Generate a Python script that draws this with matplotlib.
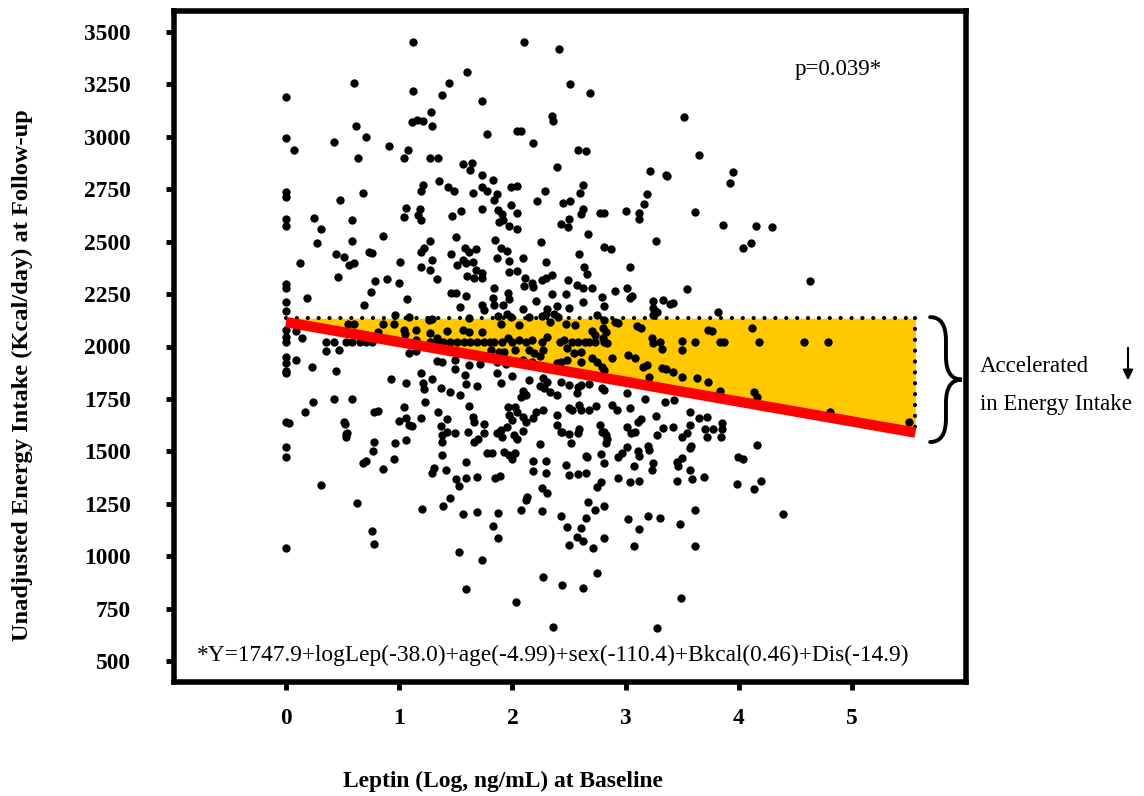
import numpy as np
import matplotlib.pyplot as plt
from matplotlib.path import Path
import matplotlib.patches as mpatches

plt.rcParams['font.family'] = ['Liberation Serif', 'DejaVu Serif']

# leptin (log, ng/mL) vs energy intake (kcal/day)
pts_upper_left = [
    (1.12, 3452), (0.60, 3257), (1.60, 3309), (1.44, 3257), (0.00, 3190), (1.12, 3219), (1.38, 3200),
    (1.73, 3167), (1.28, 3119), (1.11, 3071), (1.16, 3081), (1.21, 3076), (1.29, 3052), (0.62, 3052),
    (0.00, 2995), (0.71, 3000), (0.42, 2972), (0.07, 2934), (0.91, 2957), (1.08, 2938), (1.04, 2896),
    (0.64, 2900), (1.27, 2896), (1.34, 2896), (1.56, 2867), (1.64, 2872), (1.63, 2843), (1.78, 3010),
    (1.73, 2815), (0.00, 2734), (0.00, 2710), (0.68, 2729), (0.48, 2700), (1.21, 2767), (1.19, 2739),
    (1.35, 2786), (1.43, 2758), (1.48, 2739), (1.65, 2729), (1.73, 2758), (1.78, 2739), (0.25, 2610),
    (0.00, 2606), (0.00, 2572), (0.58, 2601), (1.06, 2658), (1.04, 2615), (1.18, 2653), (1.17, 2625),
    (1.19, 2601), (1.47, 2620), (1.55, 2644), (1.73, 2653), (0.31, 2558),
]
pts_upper_mid = [
    (2.10, 3452), (2.41, 3418), (2.51, 3252), (2.69, 3209), (2.35, 3100), (2.36, 3076), (3.52, 3095),
    (2.04, 3028), (2.08, 3028), (2.18, 2967), (2.58, 2938), (2.65, 2929), (3.65, 2910), (2.39, 2857),
    (3.22, 2838), (3.36, 2819), (3.37, 2810), (1.83, 2791), (1.99, 2758), (2.04, 2763), (1.86, 2724),
    (1.84, 2700), (2.29, 2739), (2.22, 2691), (2.62, 2767), (2.60, 2729), (2.45, 2682), (2.51, 2691),
    (3.19, 2724), (3.16, 2677), (1.87, 2648), (1.91, 2629), (1.99, 2672), (2.04, 2634), (2.62, 2653),
    (2.61, 2629), (2.77, 2634), (2.81, 2634), (3.00, 2644), (3.12, 2634), (3.12, 2606), (3.61, 2639),
    (1.88, 2591), (1.92, 2601), (1.97, 2572), (2.04, 2558), (2.50, 2606), (2.43, 2582), (2.49, 2568),
    (3.95, 2829), (3.92, 2777), (3.86, 2577), (4.15, 2572), (4.29, 2568),
]
pts_mid_left = [
    (0.27, 2492), (0.58, 2501), (0.86, 2525), (1.27, 2501), (1.50, 2520), (0.12, 2396), (0.44, 2439),
    (0.51, 2425), (0.56, 2387), (0.60, 2396), (0.73, 2449), (0.76, 2444), (1.01, 2401), (1.19, 2449),
    (1.22, 2468), (1.29, 2411), (1.19, 2377), (1.27, 2363), (1.46, 2439), (1.58, 2468), (1.62, 2449),
    (1.68, 2463), (1.56, 2411), (1.59, 2396), (1.65, 2401), (1.51, 2387), (1.68, 2363), (1.73, 2349),
    (1.60, 2334), (1.66, 2325), (1.73, 2325), (0.46, 2330), (0.79, 2311), (0.89, 2320), (1.00, 2301),
    (1.33, 2320), (0.00, 2296), (0.00, 2277), (0.75, 2258), (0.19, 2230), (1.07, 2225), (1.46, 2254),
    (1.50, 2254), (1.59, 2240), (0.69, 2197), (0.00, 2211), (0.00, 2168), (1.54, 2187), (1.73, 2197),
    (1.75, 2173), (0.96, 2149), (1.09, 2140), (1.26, 2125), (1.29, 2130), (1.62, 2135), (0.55, 2106),
    (0.60, 2106), (0.86, 2106), (0.95, 2106), (1.04, 2078), (1.05, 2059), (1.15, 2078), (1.27, 2064),
    (1.33, 2040), (1.42, 2073), (1.56, 2078), (1.62, 2068), (1.73, 2068), (0.81, 2068), (0.00, 2078),
    (0.00, 2045), (0.00, 2021), (0.09, 2073), (0.14, 2040), (0.35, 2021), (0.42, 2021), (0.53, 2021),
    (0.58, 2021), (0.65, 2021), (0.71, 2021), (0.76, 2021), (1.27, 2021), (1.33, 2021), (1.39, 2021),
    (1.45, 2021), (1.51, 2021), (1.57, 2021), (1.63, 2021), (1.69, 2021), (1.75, 2021), (1.15, 2030),
    (0.35, 1978), (0.47, 1983), (1.09, 1969), (1.15, 1978), (0.00, 1950), (0.00, 1921), (0.00, 1883),
    (0.00, 1874), (0.09, 1935), (0.23, 1902), (0.44, 1883), (1.33, 1931), (1.38, 1926), (1.49, 1935),
    (1.62, 1912), (1.71, 1916), (1.49, 1893), (1.58, 1864), (1.19, 1874), (0.93, 1845), (1.06, 1826),
    (1.21, 1826), (1.22, 1797), (1.29, 1845), (1.37, 1802), (1.45, 1783), (1.59, 1821), (1.69, 1812),
    (1.54, 1769), (1.23, 1736), (0.42, 1750), (0.58, 1750), (0.24, 1736), (0.17, 1688), (0.78, 1688),
    (0.81, 1693), (1.04, 1712), (1.34, 1688), (1.42, 1655), (1.62, 1717), (1.65, 1664), (1.66, 1640),
    (1.75, 1631), (0.00, 1640), (0.03, 1636), (0.51, 1640), (0.52, 1631), (1.00, 1645), (1.06, 1660),
    (1.09, 1626), (1.11, 1622), (1.19, 1660), (1.37, 1622), (1.42, 1593), (0.54, 1588),
]
pts_mid_center = [
    (2.67, 2534), (3.27, 2501), (2.25, 2496), (1.85, 2506), (1.90, 2468), (1.95, 2453), (2.81, 2473),
    (2.87, 2463), (1.86, 2420), (1.97, 2406), (2.09, 2420), (2.30, 2401), (2.59, 2439), (2.63, 2377),
    (3.04, 2377), (1.97, 2354), (2.04, 2358), (2.66, 2344), (2.11, 2325), (2.17, 2301), (2.18, 2282),
    (2.26, 2316), (2.30, 2325), (2.35, 2339), (2.49, 2316), (1.84, 2277), (2.10, 2287), (2.57, 2292),
    (2.62, 2277), (2.70, 2277), (2.91, 2263), (3.01, 2277), (3.06, 2240), (3.04, 2230), (3.54, 2273),
    (1.96, 2254), (1.97, 2225), (2.35, 2249), (2.47, 2249), (2.79, 2235), (1.83, 2230), (1.84, 2197),
    (1.92, 2197), (2.09, 2178), (2.21, 2216), (2.31, 2178), (2.39, 2192), (2.50, 2182), (2.62, 2211),
    (2.81, 2192), (3.24, 2216), (3.33, 2221), (3.39, 2201), (3.42, 2206), (3.24, 2182), (3.27, 2163),
    (1.95, 2154), (1.99, 2140), (1.87, 2144), (2.15, 2140), (2.26, 2144), (2.30, 2154), (2.37, 2154),
    (2.40, 2140), (2.75, 2149), (2.81, 2125), (2.91, 2116), (2.93, 2111), (3.24, 2149), (3.28, 2163),
    (1.90, 2106), (2.06, 2102), (2.33, 2116), (2.47, 2106), (2.55, 2102), (2.70, 2073), (2.73, 2054),
    (2.80, 2087), (2.83, 2068), (3.10, 2097), (3.14, 2087), (3.73, 2078), (1.80, 2021), (1.84, 2021),
    (1.91, 2021), (2.00, 2021), (2.06, 2030), (2.12, 2021), (2.17, 2030), (1.96, 2040), (2.26, 2021),
    (2.31, 2045), (2.42, 2021), (2.46, 2030), (2.53, 2021), (2.58, 2021), (2.64, 2021), (2.68, 2021),
    (2.73, 2021), (2.80, 2040), (2.81, 2021), (2.84, 2016), (3.23, 2040), (3.24, 2016), (3.30, 2021),
    (3.32, 1988), (3.50, 2026), (3.61, 2021), (1.81, 1983), (1.88, 1974), (1.93, 1974), (2.02, 1983),
    (2.15, 1983), (2.19, 1969), (2.27, 1983), (2.48, 1993), (2.54, 1969), (2.61, 1974), (2.70, 1945),
    (2.75, 1926), (2.88, 1945), (3.02, 1959), (3.08, 1945), (3.50, 1983), (2.09, 1935), (2.17, 1926),
    (2.24, 1955), (1.86, 1926), (1.94, 1916), (2.39, 1921), (2.43, 1926), (2.48, 1935), (2.61, 1926),
    (2.79, 1902), (2.81, 1888), (3.15, 1902), (3.19, 1912), (3.32, 1897), (3.36, 1893), (3.42, 1878),
    (3.21, 1855), (3.50, 1855), (3.63, 1850), (1.86, 1874), (1.90, 1826), (2.00, 1859), (2.15, 1840),
    (2.27, 1850), (2.31, 1831), (2.43, 1831), (2.50, 1817), (2.58, 1807), (2.61, 1817), (2.68, 1821),
    (2.79, 1802), (2.81, 1793), (2.09, 1788), (2.12, 1769), (2.08, 1760), (2.24, 1812), (2.28, 1802),
    (2.33, 1783), (2.39, 1769), (2.57, 1779), (3.01, 1779), (3.17, 1750), (3.35, 1736), (3.43, 1745),
    (1.96, 1712), (2.02, 1712), (2.04, 1688), (2.09, 1664), (2.12, 1640), (1.97, 1674), (2.00, 1650),
    (2.18, 1660), (2.21, 1688), (2.27, 1698), (2.39, 1674), (2.50, 1707), (2.53, 1698), (2.59, 1722),
    (2.61, 1698), (2.68, 1698), (2.74, 1717), (2.88, 1722), (2.92, 1698), (3.04, 1707), (3.14, 1655),
    (3.27, 1669), (3.57, 1688), (1.95, 1617), (1.90, 1603), (1.86, 1588), (2.09, 1598), (2.39, 1626),
    (2.43, 1593), (2.59, 1607), (2.77, 1626), (2.81, 1593), (3.01, 1617), (3.11, 1640), (3.33, 1612),
    (3.42, 1617), (3.57, 1626), (3.65, 1660),
]
pts_mid_right = [
    (4.11, 2492), (4.04, 2468), (4.63, 2311), (3.82, 2163), (3.76, 2073), (4.12, 2087), (3.83, 2021),
    (3.87, 2021), (4.18, 2021), (4.58, 2021), (4.79, 2021), (3.73, 1831), (3.83, 1788), (4.13, 1783),
    (4.16, 1760), (4.04, 1736), (4.81, 1688), (5.50, 1640), (3.72, 1664), (3.85, 1636), (3.70, 1607),
    (3.77, 1607), (3.85, 1607),
]
pts_lower = [
    (0.53, 1583), (0.53, 1569), (0.00, 1522), (0.00, 1474), (0.78, 1546), (0.77, 1503), (0.96, 1541),
    (1.06, 1555), (0.68, 1446), (0.71, 1455), (0.86, 1417), (0.95, 1465), (1.38, 1579), (1.49, 1588),
    (1.61, 1593), (1.75, 1588), (1.38, 1546), (1.66, 1546), (1.70, 1560), (1.38, 1484), (1.59, 1450),
    (1.78, 1493), (1.31, 1422), (1.29, 1398), (1.41, 1412), (1.50, 1370), (1.59, 1374), (1.69, 1379),
    (1.53, 1336), (0.31, 1341), (0.63, 1256), (1.45, 1279), (1.39, 1242), (1.20, 1227), (1.56, 1203),
    (1.69, 1213), (0.76, 1123), (0.78, 1061), (0.00, 1042), (1.53, 1023), (1.73, 985), (1.59, 847),
    (1.91, 1569), (2.01, 1579), (2.04, 1560), (1.82, 1493), (1.93, 1498), (1.97, 1484), (2.02, 1493),
    (2.00, 1465), (2.24, 1536), (2.44, 1593), (2.50, 1583), (2.58, 1588), (2.52, 1541), (2.79, 1593),
    (2.83, 1579), (2.84, 1560), (2.83, 1541), (3.05, 1588), (3.08, 1593), (3.28, 1579), (3.50, 1569),
    (3.54, 1588), (3.72, 1569), (2.18, 1455), (2.30, 1455), (2.18, 1408), (2.30, 1398), (2.47, 1436),
    (2.65, 1479), (2.66, 1474), (2.78, 1489), (2.81, 1446), (2.50, 1389), (2.58, 1394), (2.65, 1398),
    (2.93, 1474), (2.97, 1493), (3.01, 1522), (3.11, 1503), (3.12, 1479), (3.20, 1527), (3.21, 1508),
    (3.24, 1446), (3.23, 1412), (3.07, 1432), (3.45, 1450), (3.46, 1432), (3.50, 1470), (3.57, 1517),
    (3.58, 1527), (3.57, 1412), (1.85, 1374), (1.89, 1384), (2.93, 1374), (3.04, 1355), (3.12, 1360),
    (3.45, 1360), (3.59, 1370), (3.69, 1379), (2.26, 1327), (2.31, 1303), (2.75, 1332), (2.78, 1355),
    (2.12, 1270), (2.13, 1284), (1.87, 1208), (2.08, 1222), (2.26, 1218), (2.67, 1261), (2.73, 1222),
    (2.81, 1242), (2.43, 1194), (2.65, 1184), (3.02, 1180), (3.20, 1194), (3.30, 1184), (3.61, 1222),
    (1.83, 1146), (2.48, 1141), (2.61, 1137), (3.12, 1132), (3.48, 1156), (1.87, 1089), (2.57, 1094),
    (2.62, 1075), (2.50, 1056), (2.71, 1042), (2.81, 1089), (3.07, 1051), (3.61, 1051), (2.27, 904),
    (2.44, 866), (2.62, 852), (2.75, 923), (2.03, 785), (3.49, 804), (2.36, 666), (3.28, 657),
    (3.84, 1569), (4.16, 1531), (3.99, 1474), (4.04, 1465), (3.98, 1346), (4.13, 1322), (4.20, 1360),
    (4.39, 1203),
]

fit_x = [0, 5.56]          # regression line ends
fit_y = [2116, 1590]
ref_level = 2135           # dotted reference (intake at lowest leptin)
x_ticks = [0, 1, 2, 3, 4, 5]
y_ticks = list(range(500, 3501, 250))

pts = np.array(pts_upper_left + pts_upper_mid + pts_mid_left + pts_mid_center + pts_mid_right + pts_lower)
leptin = pts[:, 0]
kcal = pts[:, 1]

fig = plt.figure(figsize=(11.44, 7.96), dpi=100)
ax = fig.add_axes([174 / 1144, 114 / 796, 792 / 1144, 671 / 796])

# yellow band between reference level and fitted line
ax.fill_between(fit_x, fit_y, [ref_level, ref_level], color='#FFC800', lw=0, zorder=1)
ax.plot([fit_x[0], fit_x[1]], [ref_level, ref_level], color='black', lw=3,
        linestyle=(0, (0.01, 2.6)), dash_capstyle='round', zorder=2)
ax.plot([fit_x[1], fit_x[1]], [ref_level, fit_y[1]], color='black', lw=3,
        linestyle=(0, (0.01, 2.6)), dash_capstyle='round', zorder=2)

ax.scatter(leptin, kcal, s=36, color='black', lw=0, zorder=3)
ax.plot(fit_x, fit_y, color='#FF0000', lw=7.5, solid_capstyle='butt', zorder=4)

# curly brace
x0, xm, x1 = 5.69, 5.83, 5.97
yt, yb = 2140, 1545
ymid = (yt + yb) / 2
d = 110
verts = [(x0, yt), (xm, yt), (xm, yt - d),
         (xm, ymid + d),
         (xm, ymid), (x1, ymid),
         (xm, ymid), (xm, ymid - d),
         (xm, yb + d),
         (xm, yb), (x0, yb)]
codes = [Path.MOVETO, Path.CURVE3, Path.CURVE3,
         Path.LINETO,
         Path.CURVE3, Path.CURVE3,
         Path.CURVE3, Path.CURVE3,
         Path.LINETO,
         Path.CURVE3, Path.CURVE3]
ax.add_patch(mpatches.PathPatch(Path(verts, codes), fill=False, lw=2.8,
                                capstyle='round', zorder=5))

ax.set_xlim(-0.989, 6.007)
ax.set_ylim(402, 3598)
ax.set_xticks(x_ticks)
ax.set_yticks(y_ticks)
for s in ax.spines.values():
    s.set_linewidth(4)
ax.tick_params(direction='out', length=6, width=3.5, labelsize=16.8)
ax.tick_params(axis='y', pad=25)
ax.tick_params(axis='x', pad=13)
for lbl in ax.get_xticklabels() + ax.get_yticklabels():
    lbl.set_fontweight('bold')

ax.text(4.49, 3321, 'p=0.039*', fontsize=16.5, va='center', ha='left')
ax.text(-0.786, 531, '*Y=1747.9+logLep(-38.0)+age(-4.99)+sex(-110.4)+Bkcal(0.46)+Dis(-14.9)',
        fontsize=16.8, va='center', ha='left')

fig.text(22 / 1144, 1 - 375 / 796, 'Unadjusted Energy Intake (Kcal/day) at Follow-up',
         rotation=90, fontsize=17.6, fontweight='bold', ha='center', va='center')
fig.text(503 / 1144, 1 - 781 / 796, 'Leptin (Log, ng/mL) at Baseline',
         fontsize=16.9, fontweight='bold', ha='center', va='center')

fig.text(980 / 1144, 1 - 366 / 796, 'Accelerated', fontsize=16.5, ha='left', va='center')
fig.text(980 / 1144, 1 - 405 / 796, 'in Energy Intake', fontsize=16.5, ha='left', va='center')
fig.add_artist(mpatches.FancyArrowPatch((1128 / 1144, 1 - 345 / 796), (1128 / 1144, 1 - 383 / 796),
                                        transform=fig.transFigure, arrowstyle='-|>,head_length=6,head_width=3',
                                        lw=1.5, color='black'))

fig.savefig('out.png', dpi=100)
